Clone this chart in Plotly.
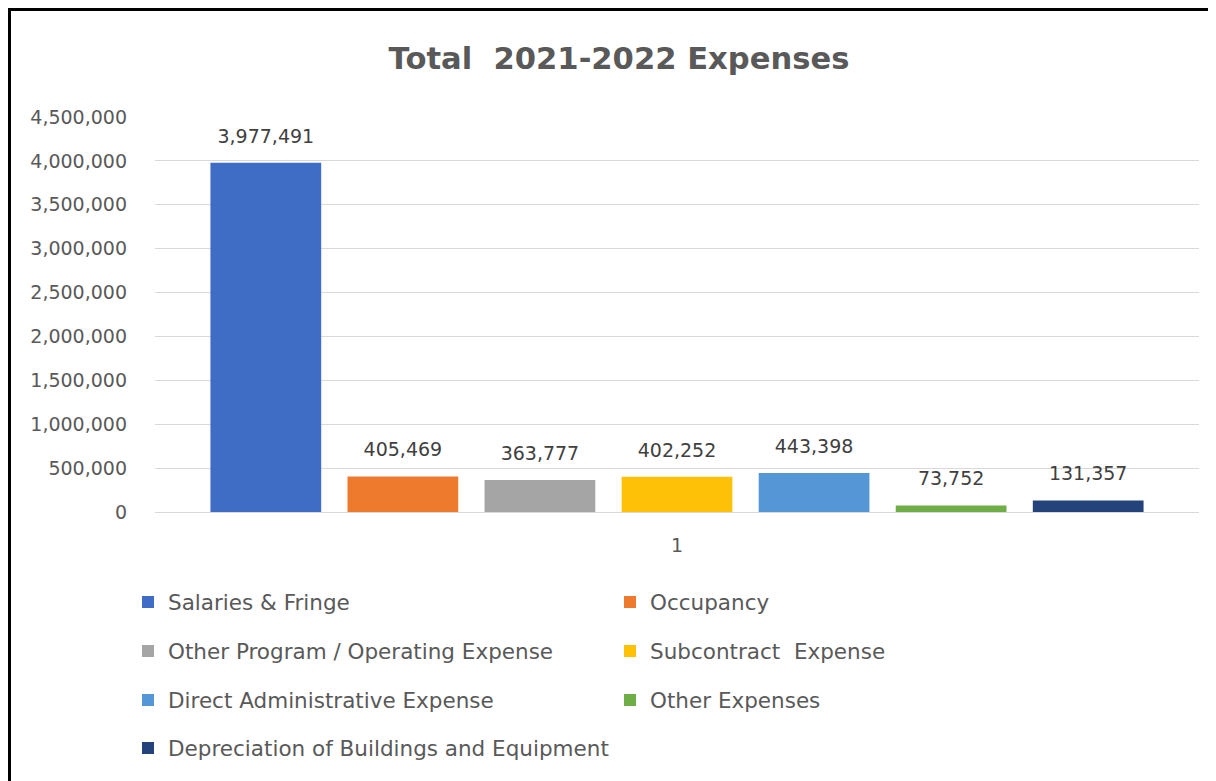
import plotly.graph_objects as go

categories = ["1"]
series_names = [
    "Salaries & Fringe",
    "Occupancy",
    "Other Program / Operating Expense",
    "Subcontract  Expense",
    "Direct Administrative Expense",
    "Other Expenses",
    "Depreciation of Buildings and Equipment",
]
series_values = [3977491, 405469, 363777, 402252, 443398, 73752, 131357]
colors = ["#3F6CC4", "#EE7A2E", "#A5A5A5", "#FEC107", "#5597D6", "#6FAD47", "#24437A"]
y_ticks = [0, 500000, 1000000, 1500000, 2000000, 2500000, 3000000, 3500000, 4000000, 4500000]
y_tick_labels = [f"{v:,}" for v in y_ticks]

# the page body adds an 8px offset; figure coordinates below account for it
W, H = 1208, 773
L, R, T, B = 147, 17, 109, 269
FONT = "DejaVu Sans"
GRAY = "#595959"
pw = W - L - R
ph = H - T - B

fig = go.Figure()

leg_x = [120, 602, 120, 602, 120, 602, 120]
leg_y = [594, 594, 643, 643, 692, 692, 740]

legends = {}
for i, (name, val, col) in enumerate(zip(series_names, series_values, colors)):
    lname = "legend" if i == 0 else f"legend{i+1}"
    fig.add_trace(go.Bar(
        name=name,
        x=categories,
        y=[val],
        marker=dict(color=col, line=dict(width=0)),
        offsetgroup=f"g{i}",
        legend=lname,
        showlegend=True,
        hovertemplate=name + ": %{y:,}<extra></extra>",
    ))
    legends[lname] = dict(
        x=(leg_x[i] - L) / pw, y=(T + ph - leg_y[i]) / ph,
        xref="paper", yref="paper",
        xanchor="left", yanchor="middle",
        bgcolor="rgba(0,0,0,0)",
        font=dict(family=FONT, size=21.5, color=GRAY),
    )

# data labels (grouped scatter text aligned with the bars)
for i, (name, val) in enumerate(zip(series_names, series_values)):
    fig.add_trace(go.Scatter(
        x=categories, y=[val],
        mode="markers+text",
        text=[f"{val:,}"],
        textposition="top center",
        textfont=dict(family=FONT, size=19, color="#404040"),
        marker=dict(size=23, color="rgba(0,0,0,0)"),
        offsetgroup=f"g{i}",
        showlegend=False,
        hoverinfo="skip",
        cliponaxis=False,
    ))

# border lines (left and top)
fig.add_shape(type="line", xref="paper", yref="paper",
              x0=(1.5 - L) / pw, x1=(1.5 - L) / pw,
              y0=(T + ph - H) / ph, y1=(T + ph - 1.5) / ph,
              line=dict(color="black", width=3))
fig.add_shape(type="line", xref="paper", yref="paper",
              x0=(0 - L) / pw, x1=(W - L) / pw,
              y0=(T + ph - 1.5) / ph, y1=(T + ph - 1.5) / ph,
              line=dict(color="black", width=3))

fig.update_layout(
    width=W, height=H,
    margin=dict(l=L, r=R, t=T, b=B, autoexpand=False),
    paper_bgcolor="white", plot_bgcolor="white",
    showlegend=True,
    barmode="group", bargap=0.081, bargroupgap=0.192,
    scattermode="group", scattergap=0.081,
    title=dict(text="<b>Total  2021-2022 Expenses</b>", x=611 / W, xanchor="center",
               y=1 - 50 / H, yanchor="middle",
               font=dict(family=FONT, size=30.6, color=GRAY)),
    **legends,
)
fig.update_yaxes(range=[0, 4500000], tickvals=y_ticks, ticktext=y_tick_labels,
                 showgrid=True, gridcolor="#D9D9D9", gridwidth=1,
                 zeroline=True, zerolinecolor="#D9D9D9", zerolinewidth=1,
                 tickfont=dict(family=FONT, size=19, color=GRAY), ticks="",
                 ticklabelstandoff=27,
                 showline=False, automargin=False)
fig.update_xaxes(showgrid=False, showline=False, ticks="", automargin=False,
                 ticklabelstandoff=20,
                 tickfont=dict(family=FONT, size=19, color=GRAY))

fig.write_html("out.html")
